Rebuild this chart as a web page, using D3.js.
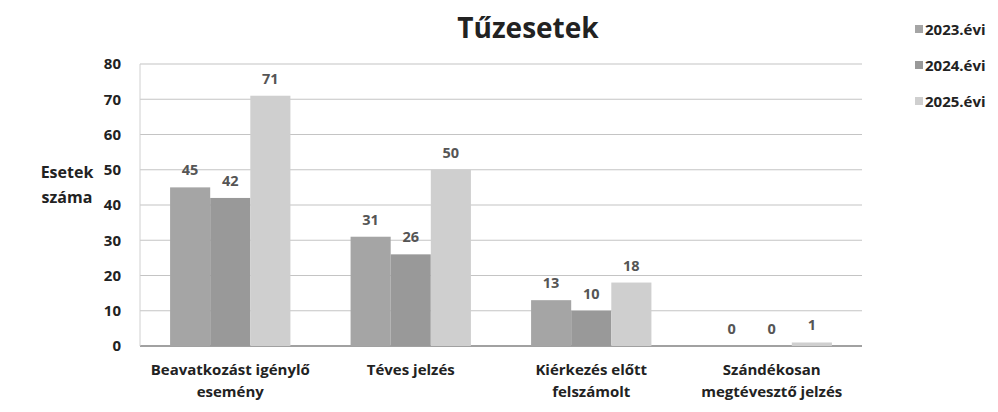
<!DOCTYPE html>
<html><head><meta charset="utf-8">
<script src="https://cdn.jsdelivr.net/npm/d3@7"></script>
<style>
body{margin:0;background:#fff;}
text{font-family:"Open Sans","Noto Sans",sans-serif;}
</style></head>
<body><svg id="c" width="998" height="412"></svg>
<script>
const categories = [["Beavatkozást igénylő","esemény"],["Téves jelzés"],["Kiérkezés előtt","felszámolt"],["Szándékosan","megtévesztő jelzés"]];
const seriesNames = ["2023.évi","2024.évi","2025.évi"];
const v2023 = [45,31,13,0];
const v2024 = [42,26,10,0];
const v2025 = [71,50,18,1];
const yTicks = [0,10,20,30,40,50,60,70,80];
const colors = ["#a5a5a5","#999999","#cfcfcf"];

(function(){
const svg = d3.select("#c");
const pl = 140, pr = 862, pt = 64, pb = 346;
const x0 = d3.scaleBand().domain(d3.range(categories.length)).range([pl,pr]).paddingInner(0).paddingOuter(0);
const x1 = d3.scaleBand().domain(d3.range(3)).range([0,x0.bandwidth()]).paddingOuter(0.75).paddingInner(0);
const y = d3.scaleLinear().domain([0,80]).range([pb,pt]);

svg.append("g").selectAll("line").data(yTicks).join("line")
  .attr("x1",pl).attr("x2",pr).attr("y1",d=>y(d)).attr("y2",d=>y(d))
  .attr("stroke",d=>d===0?"#444":"#c4c4c4").attr("stroke-width",1.2);
svg.append("line").attr("x1",pl).attr("x2",pl).attr("y1",pt).attr("y2",pb).attr("stroke","#d0d0d0");

const yAxis = d3.axisLeft(y).tickValues(yTicks).tickSize(0).tickPadding(19);
const ga = svg.append("g").attr("transform",`translate(${pl},0)`).call(yAxis);
ga.select(".domain").remove();
ga.selectAll("text").attr("font-size",15).attr("font-weight","bold").attr("fill","#222").style("font-family","'Open Sans',sans-serif");

const series = [v2023,v2024,v2025];
series.forEach((vals,si)=>{
  const g = svg.append("g");
  g.selectAll("rect").data(vals).join("rect")
    .attr("x",(d,i)=>x0(i)+x1(si)).attr("width",x1.bandwidth())
    .attr("y",d=>y(d)).attr("height",d=>pb-y(d)).attr("fill",colors[si]);
  g.selectAll("text").data(vals).join("text")
    .attr("x",(d,i)=>x0(i)+x1(si)+x1.bandwidth()/2).attr("y",d=>y(d)-12)
    .attr("text-anchor","middle").attr("font-size",14.5).attr("font-weight","bold").attr("fill","#555")
    .text(d=>d);
});

const cg = svg.append("g");
categories.forEach((lines,i)=>{
  const t = cg.append("text").attr("text-anchor","middle").attr("font-size",15).attr("font-weight","bold").attr("fill","#222");
  lines.forEach((l,j)=>t.append("tspan").attr("x",x0(i)+x0.bandwidth()/2).attr("y",375+j*22).text(l));
});

svg.append("text").attr("x",528).attr("y",38).attr("text-anchor","middle").attr("font-size",28).attr("font-weight","bold").attr("fill","#222").text("Tűzesetek");

const yt = svg.append("text").attr("text-anchor","middle").attr("font-size",16).attr("font-weight","bold").attr("fill","#222");
yt.append("tspan").attr("x",67).attr("y",178).text("Esetek");
yt.append("tspan").attr("x",67).attr("y",203).text("száma");

const lg = svg.append("g");
seriesNames.forEach((n,i)=>{
  const yy = 30 + i*36;
  lg.append("rect").attr("x",915).attr("y",yy-5).attr("width",8).attr("height",8).attr("fill",colors[i]);
  lg.append("text").attr("x",925).attr("y",yy+5).attr("font-size",15).attr("font-weight","bold").attr("fill","#222").text(n);
});
})();
</script></body></html>
